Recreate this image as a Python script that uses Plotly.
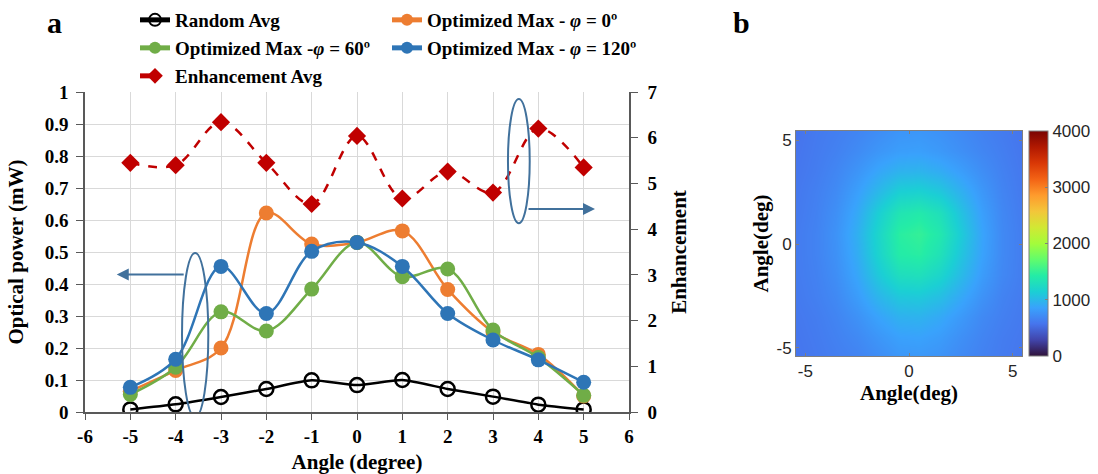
import plotly.graph_objects as go

# ---------------- data ----------------
angles = [-5, -4, -3, -2, -1, 0, 1, 2, 3, 4, 5]
random_avg = [0.008, 0.024, 0.047, 0.072, 0.099, 0.084, 0.100, 0.072, 0.048, 0.023, 0.008]
opt_phi0 = [0.065, 0.130, 0.200, 0.622, 0.525, 0.530, 0.566, 0.383, 0.250, 0.180, 0.050]
opt_phi60 = [0.055, 0.140, 0.313, 0.253, 0.384, 0.530, 0.423, 0.447, 0.256, 0.170, 0.052]
opt_phi120 = [0.077, 0.165, 0.455, 0.308, 0.502, 0.530, 0.455, 0.308, 0.225, 0.163, 0.093]
enhancement_avg = [5.45, 5.40, 6.34, 5.45, 4.55, 6.04, 4.67, 5.26, 4.80, 6.20, 5.35]

x_ticks = [-6, -5, -4, -3, -2, -1, 0, 1, 2, 3, 4, 5, 6]
y_ticks = [0, 0.1, 0.2, 0.3, 0.4, 0.5, 0.6, 0.7, 0.8, 0.9, 1]
y2_ticks = [0, 1, 2, 3, 4, 5, 6, 7]

# heat map (panel b): coarse grid of intensities
map_x = [-5.5, -4.5, -3.5, -2.5, -1.5, -0.5, 0.5, 1.5, 2.5, 3.5, 4.5, 5.5]
map_y = [-5.5, -4.5, -3.5, -2.5, -1.5, -0.5, 0.5, 1.5, 2.5, 3.5, 4.5, 5.5]
map_z = [
    [570, 600, 630, 660, 720, 780, 790, 760, 700, 650, 610, 580],
    [580, 610, 650, 700, 780, 850, 860, 820, 740, 670, 620, 590],
    [590, 620, 670, 750, 860, 950, 960, 900, 800, 700, 640, 600],
    [600, 640, 700, 820, 980, 1100, 1110, 1040, 900, 760, 660, 610],
    [610, 650, 730, 880, 1100, 1280, 1300, 1200, 1010, 820, 690, 620],
    [610, 660, 750, 920, 1180, 1420, 1450, 1320, 1080, 860, 700, 620],
    [610, 660, 760, 940, 1200, 1450, 1500, 1380, 1120, 870, 700, 620],
    [600, 650, 740, 900, 1140, 1350, 1400, 1300, 1060, 840, 690, 610],
    [590, 640, 710, 840, 1000, 1150, 1170, 1100, 950, 790, 670, 600],
    [580, 620, 680, 770, 880, 960, 970, 920, 830, 730, 650, 590],
    [570, 610, 650, 710, 780, 830, 840, 800, 740, 680, 630, 580],
    [560, 600, 630, 670, 720, 770, 780, 750, 700, 650, 610, 570],
]
map_ticks = [-5, 0, 5]
cbar_ticks = [0, 1000, 2000, 3000, 4000]

# ---------------- style / layout geometry (pixels) ----------------
W, H = 1098, 474
ML, MR, MT, MB = 85, 50, 92, 62
PW, PH = W - ML - MR, H - MT - MB

SERIF = "Liberation Serif, Times New Roman, serif"
SANS = "Liberation Sans, Arial, sans-serif"
ORANGE = "#ED7D31"
GREEN = "#70AD47"
BLUE = "#2E75B6"
DARKRED = "#C00000"
ANNOT = "#41719C"
AXC = "#595959"
GRID = "#D9D9D9"


def dx(p):  # pixel x -> paper fraction
    return (p - ML) / PW


def dy(p):  # pixel y (from top) -> paper fraction
    return (H - MB - p) / PH


def lab(v):
    return "%g" % v


fig = go.Figure()

fig.add_trace(go.Scatter(
    x=angles, y=random_avg, name="Random Avg", mode="lines+markers", showlegend=True,
    line=dict(color="black", width=2.5, shape="spline", smoothing=0.6),
    marker=dict(symbol="circle-open", size=14, color="black", line=dict(width=2.5)),
    legend="legend", xaxis="x", yaxis="y"))
fig.add_trace(go.Scatter(
    x=angles, y=opt_phi0, name="Optimized Max - <i>φ</i> = 0º", mode="lines+markers", showlegend=True,
    line=dict(color=ORANGE, width=2.5, shape="spline", smoothing=1),
    marker=dict(symbol="circle", size=15, color=ORANGE),
    legend="legend2", xaxis="x", yaxis="y"))
fig.add_trace(go.Scatter(
    x=angles, y=opt_phi60, name="Optimized Max -<i>φ</i> = 60º", mode="lines+markers", showlegend=True,
    line=dict(color=GREEN, width=2.5, shape="spline", smoothing=1),
    marker=dict(symbol="circle", size=15, color=GREEN),
    legend="legend3", xaxis="x", yaxis="y"))
fig.add_trace(go.Scatter(
    x=angles, y=opt_phi120, name="Optimized Max - <i>φ</i> = 120º", mode="lines+markers", showlegend=True,
    line=dict(color=BLUE, width=2.5, shape="spline", smoothing=1),
    marker=dict(symbol="circle", size=15, color=BLUE),
    legend="legend4", xaxis="x", yaxis="y"))
fig.add_trace(go.Scatter(
    x=angles, y=enhancement_avg, name="Enhancement Avg", mode="lines+markers", showlegend=True,
    line=dict(color=DARKRED, width=2.5, dash="dash", shape="spline", smoothing=1),
    marker=dict(symbol="diamond", size=14, color=DARKRED),
    legend="legend5", xaxis="x", yaxis="y2"))

fig.add_trace(go.Heatmap(
    x=map_x, y=map_y, z=map_z, zmin=0, zmax=4000, zsmooth="best",
    colorscale="Turbo", xaxis="x2", yaxis="y3", showlegend=False,
    colorbar=dict(
        x=dx(1029), xanchor="left", y=dy(356), yanchor="bottom",
        len=(356 - 131) / PH, lenmode="fraction", thickness=19, thicknessmode="pixels",
        xpad=0, ypad=0,
        outlinecolor="#7f7f7f", outlinewidth=1,
        tickvals=cbar_ticks, ticks="inside", ticklen=3, tickcolor="#7f7f7f",
        tickfont=dict(family=SANS, size=17, color="#262626")),
))

LEG_FONT = dict(family=SERIF, size=19, color="black", weight="bold")


def leg(xp, yp):
    return dict(x=dx(xp), y=dy(yp), xanchor="left", yanchor="middle",
                orientation="v", font=LEG_FONT, bgcolor="rgba(0,0,0,0)",
                itemsizing="constant", itemwidth=30, borderwidth=0)


tick_font = dict(family=SERIF, size=19, color="black", weight="bold")
title_font = dict(family=SERIF, size=21, color="black", weight="bold")
map_tick_font = dict(family=SANS, size=17, color="#262626")

fig.update_layout(
    width=W, height=H, showlegend=True,
    margin=dict(l=ML, r=MR, t=MT, b=MB, autoexpand=False),
    paper_bgcolor="white", plot_bgcolor="white",
    legend=leg(135, 20),
    legend2=leg(387, 20),
    legend3=leg(135, 48),
    legend4=leg(387, 48),
    legend5=leg(135, 76),
    xaxis=dict(
        domain=[dx(85), dx(629)], range=[-6, 6],
        tickvals=x_ticks, ticktext=[lab(v) for v in x_ticks],
        showgrid=True, gridcolor=GRID, gridwidth=1, zeroline=False,
        showline=True, linecolor=AXC, linewidth=1.5,
        ticks="outside", ticklen=6, tickcolor=AXC, automargin=False,
        tickfont=tick_font,
        title=dict(text="Angle (degree)", font=title_font),
        anchor="y"),
    yaxis=dict(
        domain=[dy(412), dy(92)], range=[0, 1],
        tickvals=y_ticks, ticktext=[lab(v) for v in y_ticks],
        showgrid=True, gridcolor=GRID, gridwidth=1, zeroline=False,
        showline=True, linecolor=AXC, linewidth=1.5,
        ticks="outside", ticklen=7, tickcolor=AXC, automargin=False,
        ticklabelstandoff=4,
        tickfont=tick_font,
        title=dict(text="Optical power (mW)", font=title_font),
        anchor="x"),
    yaxis2=dict(
        overlaying="y", side="right", range=[0, 7], anchor="x",
        tickvals=y2_ticks, ticktext=[lab(v) for v in y2_ticks],
        showgrid=False, zeroline=False,
        showline=True, linecolor=AXC, linewidth=1.5,
        ticks="outside", ticklen=7, tickcolor=AXC, automargin=False,
        ticklabelstandoff=6,
        tickfont=tick_font,
        title=dict(text="Enhancement", font=title_font)),
    xaxis2=dict(
        domain=[dx(796), dx(1022)], range=[-5.45, 5.45],
        tickvals=map_ticks, ticktext=[lab(v) for v in map_ticks],
        anchor="y3", showgrid=False, zeroline=False,
        showline=True, linecolor="#7f7f7f", linewidth=1, mirror="ticks",
        ticks="inside", ticklen=3, tickcolor="#7f7f7f", automargin=False,
        tickfont=map_tick_font,
        title=dict(text="Angle(deg)", font=title_font, standoff=2)),
    yaxis3=dict(
        domain=[dy(356), dy(131)], range=[-5.4, 5.45],
        tickvals=map_ticks, ticktext=[lab(v) for v in map_ticks],
        anchor="x2", showgrid=False, zeroline=False,
        showline=True, linecolor="#7f7f7f", linewidth=1, mirror="ticks",
        ticks="inside", ticklen=3, tickcolor="#7f7f7f", automargin=False,
        tickfont=map_tick_font,
        title=dict(text="Angle(deg)", font=title_font, standoff=2)),
)

# annotation ellipses and arrows
fig.add_shape(type="circle", xref="x", yref="y", x0=-3.86, x1=-3.28, y0=-0.016, y1=0.497,
              line=dict(color=ANNOT, width=2))
fig.add_shape(type="circle", xref="x", yref="y", x0=3.33, x1=3.81, y0=0.59, y1=0.978,
              line=dict(color=ANNOT, width=2))
fig.add_annotation(x=-5.3, y=0.43, ax=-3.79, ay=0.43, xref="x", yref="y", axref="x", ayref="y",
                   showarrow=True, arrowhead=2, arrowsize=1.2, arrowwidth=2, arrowcolor=ANNOT, text="")
fig.add_annotation(x=5.25, y=0.634, ax=3.75, ay=0.634, xref="x", yref="y", axref="x", ayref="y",
                   showarrow=True, arrowhead=2, arrowsize=1.2, arrowwidth=2, arrowcolor=ANNOT, text="")

# panel labels
fig.add_annotation(x=dx(54), y=dy(22), xref="paper", yref="paper", text="a", showarrow=False,
                   xanchor="center", yanchor="middle",
                   font=dict(family=SERIF, size=30, color="black", weight="bold"))
fig.add_annotation(x=dx(741), y=dy(22), xref="paper", yref="paper", text="b", showarrow=False,
                   xanchor="center", yanchor="middle",
                   font=dict(family=SERIF, size=30, color="black", weight="bold"))

fig.write_html("out.html", config={"displayModeBar": False},
               post_script="document.body.style.margin='0px';document.body.style.padding='0px';")
